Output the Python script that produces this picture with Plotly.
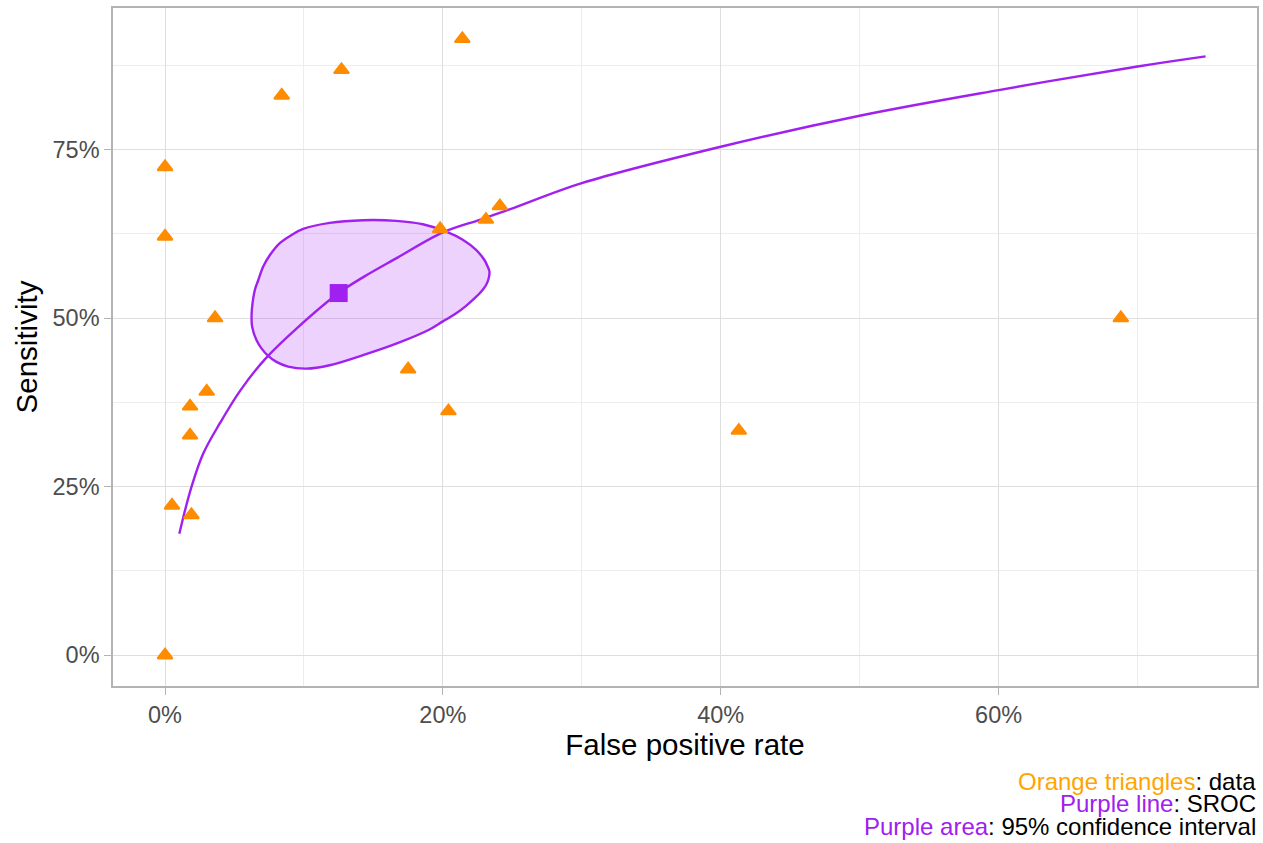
import plotly.graph_objects as go

# Study-level estimates (percent)
study_fpr = [0, 0, 0, 0.5, 1.8, 1.8, 1.9, 3.0, 3.6, 8.4, 12.7, 21.4,
             19.8, 23.1, 24.1, 17.5, 20.4, 41.3, 68.8]
study_sens = [72.4, 62.1, 0, 22.2, 36.9, 32.6, 20.8, 39.1, 50.0, 83.0, 86.8, 91.4,
              63.2, 64.6, 66.6, 42.4, 36.2, 33.3, 50.0]

# Summary ROC curve
sroc_fpr = [1.03, 1.32, 1.91, 2.75, 3.95, 5.4, 7.2, 9.5, 12.5, 14.3, 16.6,
            20.0, 22.7, 24.8, 30.0, 40.0, 50.0, 60.0, 70.0, 74.9]
sroc_sens = [18.0, 20.5, 25.0, 29.9, 34.4, 39.2, 43.9, 48.5, 53.7, 56.1, 58.8,
             62.7, 64.6, 66.1, 70.0, 75.4, 80.0, 83.8, 87.3, 88.8]

# Summary point
summary_fpr = [12.5]
summary_sens = [53.7]

# 95% confidence region around the summary point (closed outline)
ci_fpr = [6.23, 6.30, 6.47, 6.71, 7.06, 7.54, 8.26, 9.10, 9.94, 11.85, 14.25,
          16.64, 18.56, 20.24, 21.43, 22.39, 22.99, 23.23, 23.35, 23.30, 23.11,
          22.75, 22.27, 21.67, 20.96, 20.0, 19.04, 16.64, 14.25, 11.85, 10.18,
          8.86, 8.02, 7.42, 6.94, 6.59, 6.27, 6.23]
ci_sens = [50.45, 52.2, 54.2, 55.6, 57.6, 59.3, 61.1, 62.3, 63.2, 64.1, 64.5,
           64.4, 63.9, 62.8, 61.6, 60.1, 58.6, 57.6, 56.9, 55.9, 54.9,
           53.9, 52.9, 51.8, 50.7, 49.5, 48.3, 46.2, 44.5, 43.0, 42.5,
           42.8, 43.5, 44.4, 45.5, 46.7, 48.7, 50.45]

PURPLE = "#A020F0"
DARK_ORANGE = "#FF8C00"
ORANGE = "#FFA500"
FONT = "Liberation Sans, Arial, sans-serif"

fig = go.Figure()

fig.add_trace(go.Scatter(
    x=ci_fpr, y=ci_sens, mode="lines", fill="toself",
    fillcolor="rgba(160,32,240,0.2)",
    line=dict(color=PURPLE, width=2.4, shape="spline", smoothing=1.0),
    hoverinfo="skip", showlegend=False,
))
fig.add_trace(go.Scatter(
    x=sroc_fpr, y=sroc_sens, mode="lines",
    line=dict(color=PURPLE, width=2.4, shape="spline", smoothing=1.0),
    showlegend=False,
))
fig.add_trace(go.Scatter(
    x=study_fpr, y=study_sens, mode="markers",
    marker=dict(symbol="triangle-up", size=13, color=DARK_ORANGE,
                line=dict(color=DARK_ORANGE, width=2)),
    showlegend=False,
))
fig.add_trace(go.Scatter(
    x=summary_fpr, y=summary_sens, mode="markers",
    marker=dict(symbol="square", size=18, color=PURPLE),
    showlegend=False,
))

axis_common = dict(
    showline=True, mirror=True, linecolor="#B3B3B3", linewidth=1.5,
    showgrid=True, gridcolor="#DEDEDE", gridwidth=1.2,
    zeroline=False,
    ticks="outside", ticklen=7, tickwidth=1.3, tickcolor="#B3B3B3",
    tickfont=dict(family=FONT, size=23.5, color="#4D4D4D"),
    ticksuffix="%",
)

fig.update_xaxes(
    **axis_common,
    range=[-3.745, 78.6], dtick=20, tick0=0,
    minor=dict(dtick=10, tick0=0, showgrid=True, gridcolor="#EDEDED", gridwidth=1, ticks=""),
    title=dict(text="False positive rate", font=dict(family=FONT, size=29.5, color="black"),
               standoff=4),
)
fig.update_yaxes(
    **axis_common,
    range=[-4.57, 95.97], dtick=25, tick0=0,
    minor=dict(dtick=12.5, tick0=0, showgrid=True, gridcolor="#EDEDED", gridwidth=1, ticks=""),
    title=dict(text="Sensitivity", font=dict(family=FONT, size=29.5, color="black"),
               standoff=6),
)

caption_lines = [
    f"<span style='color:{ORANGE}'>Orange triangles</span>: data",
    f"<span style='color:{PURPLE}'>Purple line</span>: SROC",
    f"<span style='color:{PURPLE}'>Purple area</span>: 95% confidence interval",
]
plot_top, plot_bottom = 8, 686
for line, py in zip(caption_lines, [781, 803, 826.5]):
    fig.add_annotation(
        text=line, xref="paper", yref="paper",
        x=1, y=(plot_bottom - py) / (plot_bottom - plot_top),
        xanchor="right", yanchor="middle", showarrow=False,
        font=dict(family=FONT, size=24, color="black"),
        borderpad=0,
    )

fig.update_layout(
    width=1263, height=843,
    margin=dict(l=113, r=4, t=8, b=157),
    plot_bgcolor="white", paper_bgcolor="white",
    showlegend=False,
)

fig.write_html("out.html")
